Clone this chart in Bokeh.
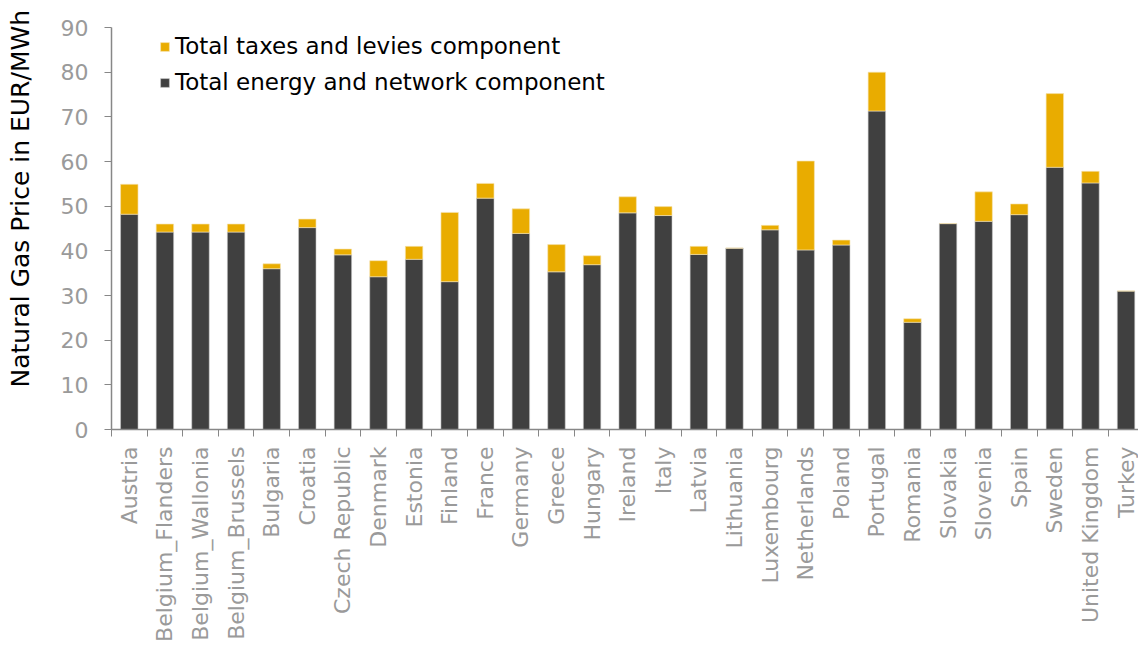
import math
from bokeh.plotting import figure
from bokeh.models import (ColumnDataSource, Range1d, FixedTicker, Legend, LegendItem, Label)
from bokeh.embed import file_html
from bokeh.resources import INLINE

countries = ["Austria", "Belgium_Flanders", "Belgium_Wallonia", "Belgium_Brussels",
             "Bulgaria", "Croatia", "Czech Republic", "Denmark", "Estonia", "Finland",
             "France", "Germany", "Greece", "Hungary", "Ireland", "Italy", "Latvia",
             "Lithuania", "Luxembourg", "Netherlands", "Poland", "Portugal", "Romania",
             "Slovakia", "Slovenia", "Spain", "Sweden", "United Kingdom", "Turkey"]
energy_network = [48.2, 44.2, 44.2, 44.2, 36.0, 45.2, 39.1, 34.2, 38.1, 33.1,
                  51.8, 43.9, 35.3, 36.9, 48.5, 47.9, 39.2, 40.6, 44.7, 40.2,
                  41.3, 71.3, 24.0, 46.1, 46.6, 48.1, 58.7, 55.2, 31.0]
taxes_levies = [6.7, 1.8, 1.8, 1.8, 1.1, 1.9, 1.3, 3.6, 2.9, 15.5,
                3.3, 5.5, 6.1, 2.0, 3.6, 2.0, 1.8, 0.0, 1.0, 19.9,
                1.1, 8.7, 0.8, 0.0, 6.6, 2.4, 16.5, 2.6, 0.0]
y_ticks = [0, 10, 20, 30, 40, 50, 60, 70, 80, 90]
y_title = "Natural Gas Price in EUR/MWh"

GOLD = "#E9AC00"
DARK = "#404040"
AXIS = "#878787"
LABEL = "#9a9a9a"
FONT = "DejaVu Sans"

n = len(countries)
xc = [i + 0.5 for i in range(n)]
totals = [e + t for e, t in zip(energy_network, taxes_levies)]
src = ColumnDataSource(dict(x=xc, energy=energy_network, total=totals))

p = figure(width=1138, height=645, output_backend="svg", toolbar_location=None,
           x_range=Range1d(0, 28.85), y_range=Range1d(0, 90),
           min_border_left=111, min_border_right=0, min_border_top=27,
           min_border_bottom=216)
p.outline_line_color = None
p.xgrid.grid_line_color = None
p.ygrid.grid_line_color = None
p.background_fill_color = "white"
p.border_fill_color = "white"

r_energy = p.vbar(x="x", width=0.49, bottom=0, top="energy", source=src,
                  fill_color=DARK, line_color="#c8c8c8", line_width=0.8, line_alpha=0.7)
r_tax = p.vbar(x="x", width=0.49, bottom="energy", top="total", source=src,
               fill_color=GOLD, line_color="#f5e3b0", line_width=0.8, line_alpha=0.8)

# x axis
xa = p.xaxis[0]
xa.ticker = FixedTicker(ticks=xc, minor_ticks=list(range(n + 1)))
xa.major_label_overrides = {x: c for x, c in zip(xc, countries)}
xa.major_label_orientation = 1.5707963
xa.major_tick_out = 0
xa.major_tick_in = 0
xa.minor_tick_out = 7
xa.minor_tick_in = 0
xa.minor_tick_line_color = AXIS
xa.axis_line_color = AXIS
xa.axis_line_width = 1.5
xa.major_label_text_color = LABEL
xa.major_label_text_font = FONT
xa.major_label_text_font_size = "22px"
xa.major_label_standoff = 10

ya = p.yaxis[0]
ya.ticker = FixedTicker(ticks=y_ticks)
ya.minor_tick_line_color = None
ya.major_tick_out = 7
ya.major_tick_in = 0
ya.major_tick_line_color = AXIS
ya.axis_line_color = AXIS
ya.axis_line_width = 1.5
ya.major_label_text_color = LABEL
ya.major_label_text_font = FONT
ya.major_label_text_font_size = "22px"
ya.major_label_standoff = 16

ytitle = Label(x=-23, y=42, x_units="screen", y_units="screen", text=y_title,
               angle=math.pi / 2, text_align="left", text_baseline="top",
               text_font=FONT, text_font_size="25px", text_color="black")
p.add_layout(ytitle, "left")

legend = Legend(items=[LegendItem(label="Total taxes and levies component", renderers=[r_tax]),
                       LegendItem(label="Total energy and network component", renderers=[r_energy])],
                location=(48, 332))
legend.background_fill_alpha = 0
legend.border_line_color = None
legend.padding = 2
legend.margin = 0
legend.spacing = 6
legend.glyph_width = 11
legend.glyph_height = 11
legend.label_height = 30
legend.label_standoff = 5
legend.label_text_font = FONT
legend.label_text_font_size = "23px"
legend.label_text_color = "black"
p.add_layout(legend, "center")

open("out.html", "w").write(file_html(p, INLINE))
